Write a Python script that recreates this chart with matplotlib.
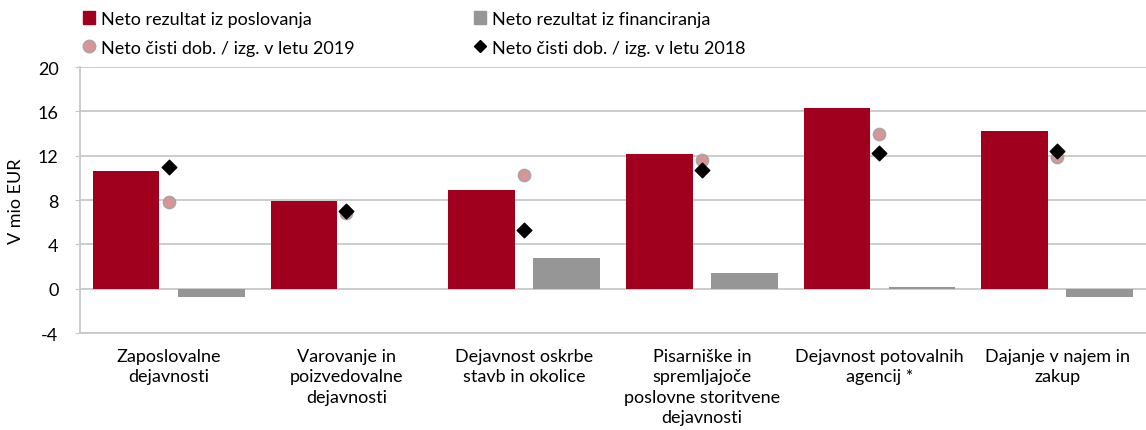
import matplotlib.pyplot as plt
import numpy as np
from matplotlib.patches import Patch
from matplotlib.lines import Line2D

plt.rcParams['font.family'] = ['Lato', 'DejaVu Sans']
plt.rcParams['axes.unicode_minus'] = False

categories = ["Zaposlovalne\ndejavnosti",
              "Varovanje in\npoizvedovalne\ndejavnosti",
              "Dejavnost oskrbe\nstavb in okolice",
              "Pisarniške in\nspremljajoče\nposlovne storitvene\ndejavnosti",
              "Dejavnost potovalnih\nagencij *",
              "Dajanje v najem in\nzakup"]
poslovanje = [10.6, 7.9, 8.9, 12.2, 16.3, 14.2]
financiranje = [-0.75, -0.05, 2.75, 1.45, 0.12, -0.75]
dobicek_2019 = [7.8, 6.85, 10.3, 11.6, 14.0, 11.85]
dobicek_2018 = [10.95, 7.0, 5.3, 10.7, 12.25, 12.4]
yticks = [-4, 0, 4, 8, 12, 16, 20]

red = '#A0001E'
grey = '#969696'
pink = '#D99594'
fs = 13

fig = plt.figure(figsize=(11.46, 4.31), dpi=100)
ax = fig.add_axes([0.0698, 0.225, 0.9302, 0.617])

x = np.arange(len(categories))
w = 0.375
off = 0.24
ax.bar(x - off, poslovanje, w, color=red, zorder=3)
ax.bar(x + off, financiranje, w, color=grey, zorder=3)
ax.scatter(x, dobicek_2019, s=75, color=pink, edgecolors='#A6A6A6', linewidths=1.2, zorder=4)
ax.scatter(x, dobicek_2018, s=55, color='black', marker='D', zorder=5)

ax.set_xlim(-0.5, len(categories) - 0.5)
ax.set_ylim(-4, 20)
ax.set_yticks(yticks)
ax.grid(axis='y', color='#C8C8C8', linewidth=1.3, zorder=0)
ax.set_xticks(x)
ax.set_xticklabels(categories, fontsize=fs, linespacing=1.32)
ax.tick_params(axis='x', length=0, pad=11)
ax.tick_params(axis='y', labelsize=fs, length=3.5, color='#C8C8C8', pad=12)
for s in ['top', 'right']:
    ax.spines[s].set_visible(False)
for s in ['left', 'bottom']:
    ax.spines[s].set_color('#C8C8C8')
    ax.spines[s].set_linewidth(1.3)
ax.set_ylabel('V mio EUR', fontsize=fs, labelpad=10)

handles = [Patch(color=red),
           Line2D([], [], marker='o', ls='', markersize=9, markerfacecolor=pink, markeredgecolor='#A6A6A6'),
           Patch(color=grey),
           Line2D([], [], marker='D', ls='', markersize=6, color='black')]
labels = ['Neto rezultat iz poslovanja', 'Neto čisti dob. / izg. v letu 2019',
          'Neto rezultat iz financiranja', 'Neto čisti dob. / izg. v letu 2018']
fig.legend(handles, labels, ncol=2, loc='upper left', bbox_to_anchor=(0.058, 1.01),
           frameon=False, fontsize=fs, handlelength=0.7, handletextpad=0.3,
           columnspacing=6.6, labelspacing=0.7)

fig.savefig('out.png', dpi=100)
